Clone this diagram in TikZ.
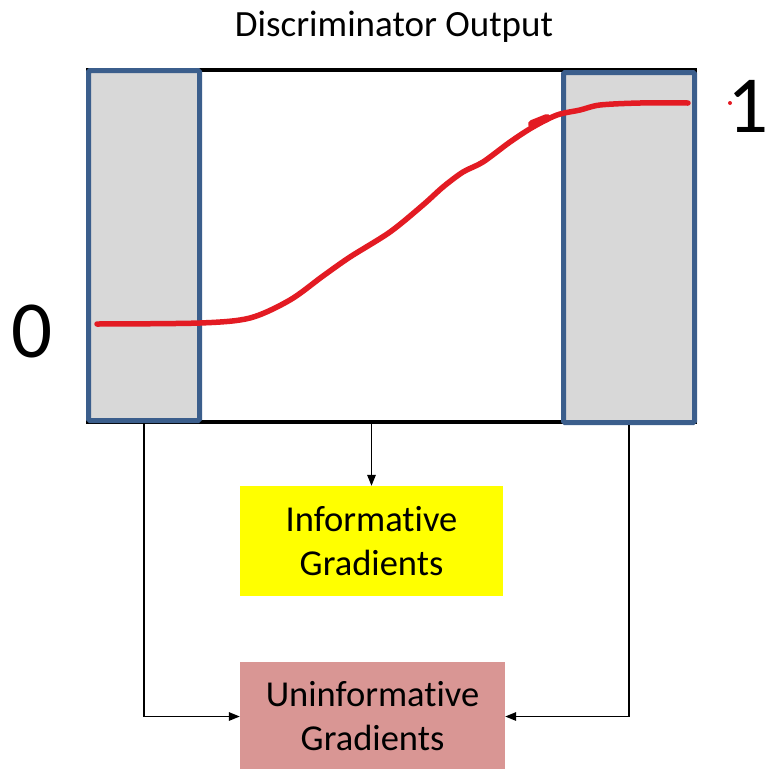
\documentclass[tikz,border=0pt]{standalone}
\usepackage{fontspec}
\setmainfont{Carlito}[Ligatures=NoCommon]
\usetikzlibrary{arrows.meta}
\definecolor{bandgray}{HTML}{D8D8D8}
\definecolor{bandblue}{HTML}{3B5E8C}
\definecolor{curvered}{HTML}{E31B23}
\definecolor{goodyellow}{HTML}{FFFF00}
\definecolor{badpink}{HTML}{D99694}
\tikzset{
  panelbox/.style={draw=black, fill=white, line width=4pt, inner sep=0pt},
  bandbox/.style={draw=bandblue, fill=bandgray, line width=5pt, rounded corners=1.5pt, inner sep=0pt},
  gradbox/.style={inner sep=0pt, minimum height=110pt, align=center,
    font=\fontsize{36.5}{44}\selectfont},
  link/.style={line width=1.5pt, -{Triangle[length=11pt,width=8.5pt]}},
  sigmoid/.style={curvered, line width=5.5pt, line cap=round, line join=round},
  bigdigit/.style={anchor=base, inner sep=0pt, font=\fontsize{81}{90}\selectfont},
}
\begin{document}
\begin{tikzpicture}[x=1pt, y=-1pt]
  \useasboundingbox (0,0) rectangle (769,769);

  % output range panel with the two saturated bands
  \node[panelbox, minimum width=607pt, minimum height=352pt] (panel) at (391.5,246) {};
  \node[bandbox, minimum width=111pt, minimum height=350pt] (leftband) at (144,245.5) {};
  \node[bandbox, minimum width=131pt, minimum height=350pt] (rightband) at (629,247.5) {};

  % sigmoid-shaped discriminator response
  \draw[sigmoid] plot[smooth, tension=0.5] coordinates {
    (97,324) (200,323) (250,318) (290,300) (323,276) (350,257) (390,232)
    (423,205) (443,187) (463,172) (483,162) (510,142) (533,127) (557,115)
    (580,110) (600,105) (640,103) (688,103)};
  \draw[curvered, line width=8pt, line cap=round] (532,124) -- (547,118);
  \fill[curvered] (730,103) circle (2pt);

  % labels
  \node[anchor=base, inner sep=0pt, font=\fontsize{37}{44}\selectfont] (title) at (394,36) {Discriminator Output};
  \node[bigdigit] (zero) at (32,357) {0};
  \node[bigdigit] (one) at (748,132) {1};

  % gradient boxes
  \node[gradbox, fill=goodyellow, minimum width=263pt] (info) at (371.5,541) {Informative\\Gradients};
  \node[gradbox, fill=badpink, minimum width=265pt] (uninfo) at (372.5,716.5) {Uninformative\\Gradients};

  % connectors
  \draw[link] (panel.south -| info.north) -- (info.north);
  \draw[link] (leftband.south) |- (uninfo.west);
  \draw[link] (rightband.south) |- (uninfo.east);
\end{tikzpicture}
\end{document}
